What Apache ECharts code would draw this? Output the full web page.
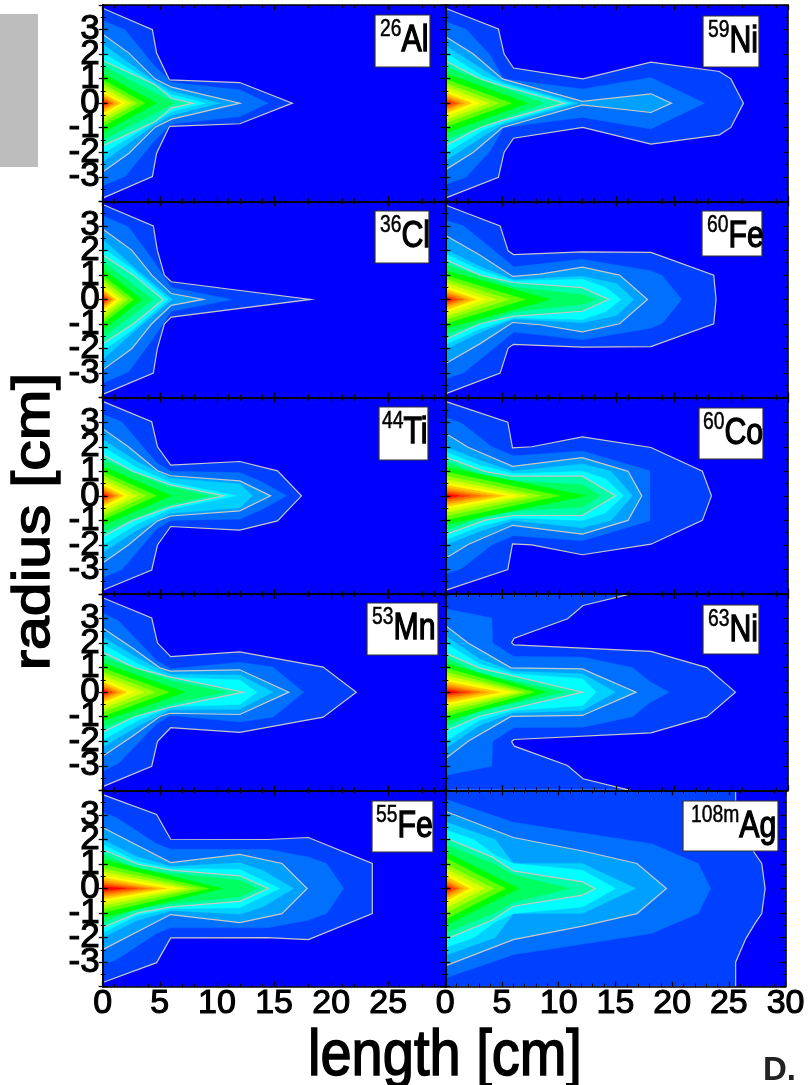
<!DOCTYPE html>
<html><head><meta charset="utf-8">
<style>html,body{margin:0;padding:0;background:#fff}#c{width:808px;height:1085px}</style>
<script src="https://cdn.jsdelivr.net/npm/echarts@6/dist/echarts.min.js"></script>
</head><body><div id="c"></div>
<script>
// Contour outlines: upper half [length cm, radius cm], mirrored about radius 0.
const outlinesAl26 = [
 [[0,3.87],[4.35,2.99],[4.72,2.04],[5.84,.95],[12,.84],[16.6,0]],
 [[0,3.37],[1.96,2.99],[4.4,1.6],[6,.85],[12,.55],[14.5,0]],
 [[0,2.81],[2.3,2.04],[4.6,.98],[6.04,.65],[12,0]],
 [[0,2.4],[4.5,.9],[6,.5],[10.2,0]],
 [[0,2.05],[4.5,.8],[6,.35],[9,0]],
 [[0,1.74],[4.6,.75],[6,.2],[7.9,0]],
 [[0,1.5],[6.3,0]]];
const coreAl26 = [[1.2,4.7],[.95,3.7],[.8,3],[.65,2.5],[.5,2],[.4,1.6],[.3,1.2],[.22,.9],[.13,.6],[.06,.3]];
const outlinesNi59 = [
 [[0,3.87],[4.65,3.02],[5.15,2],[5.97,1.43],[12.04,.99],[18,1.67],[24,1.29],[25,.99],[26.1,0]],
 [[0,3.33],[1.8,3.02],[3.9,1.97],[5.1,.99],[12,.58],[18,1.05],[22.7,0]],
 [[0,2.72],[2.46,2],[5,.99],[12,.07],[18,.38],[19.8,0]],
 [[0,2.35],[3.5,1.3],[5,.87],[11.6,0]],
 [[0,2.05],[3.3,1.1],[5,.8],[11,0]],
 [[0,1.73],[3.05,.99],[5,.7],[10.4,0]],
 [[0,1.48],[8.6,0]]];
const coreNi59 = [[1.22,7.2],[.98,5.8],[.82,4.7],[.68,3.8],[.53,3],[.42,2.3],[.32,1.7],[.24,1.3],[.15,.9],[.07,.4]];
const outlinesCl36 = [
 [[0,3.87],[4.43,3],[4.78,2.01],[5.4,.99],[6,.72],[18.2,0]],
 [[0,3.41],[2.25,2.96],[4.4,1.6],[6,.49],[11.3,0]],
 [[0,2.87],[2.54,2.01],[4.3,.99],[6,.24],[8.8,0]],
 [[0,2.45],[3,1.2],[6.1,0]],
 [[0,2.1],[2.7,1.2],[5.75,0]],
 [[0,1.81],[2.7,.99],[5.3,0]],
 [[0,1.55],[4.4,0]]];
const coreCl36 = [[1.25,3.4],[.98,2.7],[.82,2.2],[.66,1.8],[.52,1.45],[.42,1.15],[.33,.9],[.25,.7],[.16,.45],[.08,.2]];
const outlinesFe60 = [
 [[0,3.85],[4.8,3],[5.5,1.98],[5.97,1.83],[12,1.94],[18,1.92],[23.5,.99],[23.7,0]],
 [[0,3.23],[1.6,3],[6,1.33],[12,1.64],[18,1.17],[18.96,.99],[20.7,0]],
 [[0,2.62],[3.05,1.8],[5.9,.94],[8.3,1.03],[12,1.32],[15.25,.99],[17.7,0]],
 [[0,2.05],[3,1.35],[6,.8],[12,.95],[15,.65],[16.5,0]],
 [[0,1.85],[3,1.2],[6,.75],[12,.82],[14,.5],[15.4,0]],
 [[0,1.63],[3.05,.99],[5.9,.69],[12,.48],[14.3,0]],
 [[0,1.42],[6,.5],[12,.2],[13.2,0]]];
const coreFe60 = [[1.18,9.2],[.98,7],[.82,5.6],[.68,4.4],[.54,3.4],[.44,2.7],[.34,2.1],[.25,1.6],[.16,1.1],[.08,.6]];
const outlinesTi44 = [
 [[0,3.85],[4.29,3.02],[4.8,2],[5.95,1.25],[12,1.4],[15.3,1.02],[17.4,0]],
 [[0,3.33],[1.66,3.02],[4.7,1.36],[5.95,1],[12,.95],[14,.55],[16.1,0]],
 [[0,2.74],[2.25,2],[4.8,1.02],[5.95,.82],[12,.61],[14.7,0]],
 [[0,2.3],[3,1.4],[5.9,.72],[12,.48],[13.1,0]],
 [[0,2],[3,1.15],[5.9,.55],[11.7,0]],
 [[0,1.67],[2.68,.99],[5.95,.45],[10.6,0]],
 [[0,1.45],[5.5,.4],[9.3,0]]];
const coreTi44 = [[1.2,6],[.98,4.7],[.82,3.8],[.68,3],[.53,2.3],[.42,1.8],[.33,1.4],[.24,1.05],[.15,.7],[.08,.3]];
const outlinesCo60 = [
 [[0,3.85],[5.47,3],[5.88,1.96],[7.57,2],[12,2.4],[18,1.97],[22.5,1],[23.3,0]],
 [[0,3.2],[1.45,2.96],[4.07,2],[5.97,1.63],[12,1.83],[17.9,1.02],[17.9,0]],
 [[0,2.55],[2,1.98],[5.9,1.2],[12,1.56],[16,1],[17.2,0]],
 [[0,2],[3,1.45],[5.9,1],[12,1.3],[14.5,1],[16.4,0]],
 [[0,1.8],[3,1.25],[6,.9],[12,1],[14,.7],[15.6,0]],
 [[0,1.58],[3.5,.99],[5.9,.8],[12,.8],[14.9,0]],
 [[0,1.4],[3.5,.8],[6,.62],[12,.45],[13.6,0]]];
const coreCo60 = [[1.18,12.3],[.98,10],[.82,8.4],[.68,7.2],[.54,6.3],[.44,5.2],[.34,4.2],[.25,3.2],[.16,2.2],[.08,1.2]];
const outlinesMn53 = [
 [[0,3.85],[4.29,3.02],[4.8,2],[5.95,1.45],[12,1.64],[19.3,1.02],[22.2,0]],
 [[0,3.23],[1.4,2.9],[4.7,1.3],[5.95,.95],[12,1.22],[14.9,1.02],[17.6,0]],
 [[0,2.61],[2.7,1.77],[5,.99],[5.9,.86],[12,.91],[16.3,0]],
 [[0,2.25],[3,1.4],[5.9,.72],[12,.7],[14.9,0]],
 [[0,1.95],[3,1.17],[5.9,.6],[12,.5],[13.5,0]],
 [[0,1.63],[2.8,.99],[5.95,.61],[12.3,0]],
 [[0,1.42],[6,.45],[10.8,0]]];
const coreMn53 = [[1.18,7.2],[.98,5.8],[.82,4.6],[.68,3.6],[.53,2.7],[.42,2.1],[.33,1.6],[.24,1.2],[.15,.8],[.08,.4]];
const outlinesNi63 = [
 [[0,4],[16.2,4],[12.06,3.53],[10.7,2.99],[6.04,2.2],[5.8,2.02],[6,1.93],[18,1.66],[22.9,1],[25.4,0]],
 [[0,3.4],[4.07,3.02],[4.16,2],[6,1.45],[12,1.43],[16.4,1],[17.9,.43],[19.6,0]],
 [[0,2.72],[2,2],[5.75,.99],[12,.95],[16.7,0]],
 [[0,2.3],[3,1.35],[5.9,.85],[12,.75],[14.9,0]],
 [[0,2],[3,1.15],[5.9,.75],[12,.55],[13.2,0]],
 [[0,1.59],[3,.98],[12,0]],
 [[0,1.4],[3,.75],[10.5,0]]];
const coreNi63 = [[1.18,8.8],[.98,7.8],[.82,7],[.68,6.4],[.54,5.8],[.44,4.8],[.34,3.8],[.25,3],[.16,2.2],[.08,1.2]];
const outlinesFe55 = [
 [[0,3.83],[4.72,3.02],[5.95,2.01],[14.4,2],[18,2.08],[23.6,1.02],[23.6,0]],
 [[0,3.1],[1.2,2.9],[4.7,1.83],[5.95,1.6],[14.4,1.6],[18,1.29],[19.6,1.02],[21.1,0]],
 [[0,2.49],[5.95,1.06],[12,1.39],[15.7,1.02],[17.9,0]],
 [[0,2],[3,1.3],[6,.9],[12,1.05],[14,.75],[16.7,0]],
 [[0,1.8],[3,1.1],[6,.82],[12,.78],[15.5,0]],
 [[0,1.59],[3.1,.99],[6,.75],[12,.52],[14.5,0]],
 [[0,1.4],[3,.8],[6,.62],[12,.33],[13.5,0]]];
const coreFe55 = [[1.18,10.5],[.98,9.3],[.82,8.3],[.68,7.4],[.54,6.6],[.44,5.6],[.34,4.7],[.25,3.9],[.16,3],[.08,2]];
const outlinesAg108 = [
 [[0,4],[25.6,4],[25.6,3],[26.5,2.04],[27.3,1.43],[27.9,1.02],[28.2,0]],
 [[0,3.65],[6,2.7],[18.2,1.83],[22.3,1.02],[23.4,0]],
 [[0,3.15],[6,2.08],[12.1,1.53],[16.9,1.02],[19.5,0]],
 [[0,2.72],[4.4,2],[6,1.02],[12.1,1.02],[16.8,0]],
 [[0,2.4],[2.5,2],[4.4,1.36],[6,1.02],[12.1,.75],[15,0]],
 [[0,2.07],[4.2,1.27],[6,.72],[12.1,.27],[13.2,0]],
 [[0,1.8],[4.4,.98],[6,.55],[11,0]]];
const coreAg108 = [[1.5,6.5],[1.25,5.3],[1,4.3],[.82,3.5],[.65,2.6],[.52,2.1],[.4,1.6],[.3,1.25],[.2,.9],[.1,.5]];

const massNumbers = ['26','59','36','60','44','60','53','63','55','108m'];
const elements = ['Al','Ni','Cl','Fe','Ti','Co','Mn','Ni','Fe','Ag'];
const allOutlines = [outlinesAl26,outlinesNi59,outlinesCl36,outlinesFe60,outlinesTi44,outlinesCo60,outlinesMn53,outlinesNi63,outlinesFe55,outlinesAg108];
const allCores = [coreAl26,coreNi59,coreCl36,coreFe60,coreTi44,coreCo60,coreMn53,coreNi63,coreFe55,coreAg108];
const xTickLabels = [0,5,10,15,20,25,30];
const yTickLabels = [-3,-2,-1,0,1,2,3];
const axisTitleX = 'length [cm]';
const axisTitleY = 'radius [cm]';
const cornerMark = 'D.';

// Styling and layout
const bandColors = ['#0040ff','#0070ff','#00a0ff','#00d0ff','#00ffff','#00ffa8','#00ff60','#00ff00','#60ff00','#a0ff00','#d8ff00','#ffff00','#ffc800','#ffa000','#ff7000','#ff4000','#ff0000'];
const linedBands = [0,2,5];
const FONT = '"Liberation Sans", Arial, sans-serif';
const colX = [102.7, 445.3], colW = 342.7, rowY = [5,201.3,397.7,594,790.4], rowH = 196.3;
const labelBoxes = [[375,15,55,52,5],[703,16,56,51,5],[375,211,54,52,5],[702,211,60,45,5],[379,407,49,53,3],[699,408,64,51,4],[367,603,71,52,5],[703,605,56,49,5],[372,801,61,51,4],[683,801,95,50,8]];

const grids=[],xAxes=[],yAxes=[],series=[],graphics=[];
const lineSty={lineStyle:{color:'#000',width:1.6}};
function addGrid(g){grids.push(g);return grids.length-1;}
function makeX(gi,pos,showLabels,col){return {type:'value',gridIndex:gi,position:pos,min:0,max:30,interval:5,z:10,
  axisLine:{show:true,onZero:false,...lineSty},splitLine:{show:false},
  axisTick:{show:true,inside:true,length:5,lineStyle:{color:'#000',width:1.3}},
  minorTick:{show:true,splitNumber:5,length:3,lineStyle:{color:'#000',width:1}},
  axisLabel:{show:showLabels,margin:0,fontFamily:FONT,fontSize:34,color:'#000',textBorderColor:'#000',textBorderWidth:1.1,hideOverlap:false,showMinLabel:true,showMaxLabel:true,
    formatter:v=>(xTickLabels.includes(v)&&!(col===0&&v===30))?String(v):''}};}
function makeY(gi,pos,opts){return Object.assign({type:'value',gridIndex:gi,position:pos,min:-4,max:4,interval:1,z:10,
  axisLine:{show:true,onZero:false,...lineSty},splitLine:{show:false},
  axisTick:{show:true,inside:true,length:5,lineStyle:{color:'#000',width:1.3}},
  minorTick:{show:true,splitNumber:2,length:3,lineStyle:{color:'#000',width:1}},
  axisLabel:{show:false}},opts||{});}

allOutlines.forEach((outlines,i)=>{
  const col=i%2,row=(i-col)/2;
  const rect={left:colX[col],top:rowY[row],width:colW,height:rowH};
  const gi=addGrid({...rect,show:true,backgroundColor:'#0000ff',borderWidth:0});
  xAxes.push(makeX(gi,'bottom',row===4,col)); const xi=xAxes.length-1;
  xAxes.push(makeX(gi,'top',false,col));
  yAxes.push(makeY(gi,'left')); const yi=yAxes.length-1;
  yAxes.push(makeY(gi,'right'));
  const bands=outlines.concat(allCores[i].map(p=>[[0,p[0]],[p[1],0]]));
  series.push({type:'custom',xAxisIndex:xi,yAxisIndex:yi,silent:true,animation:false,clip:true,z:2,
    data:bands.map((b,k)=>[k]),
    renderItem:(params,api)=>{
      const k=api.value(0),up=bands[k];
      const path=up.concat(up.slice().reverse().map(p=>[p[0],-p[1]]));
      const pts=path.map(p=>api.coord(p));
      const children=[{type:'polygon',shape:{points:pts},style:{fill:bandColors[k],stroke:bandColors[k],lineWidth:.4}}];
      if(linedBands.includes(k)) children.push({type:'polyline',shape:{points:pts},style:{fill:null,stroke:'#c8c8c8',lineWidth:1.2}});
      return {type:'group',children};
    }});
  if(col===0){
    const gv=addGrid({...rect,show:false});
    xAxes.push({type:'value',gridIndex:gv,min:0,max:30,show:false});
    yAxes.push(makeY(gv,'left',{z:11,
      axisTick:{show:true,inside:false,length:4,lineStyle:{color:'#000',width:1.3}},
      minorTick:{show:true,splitNumber:2,length:2,lineStyle:{color:'#000',width:1}},
      axisLabel:{show:true,margin:3,padding:[0,0,12,0],fontFamily:FONT,fontSize:35,color:'#000',textBorderColor:'#000',textBorderWidth:1.1,hideOverlap:false,showMinLabel:false,showMaxLabel:false,
        formatter:v=>yTickLabels.includes(v)?String(v):''}}));
  }
  const b=labelBoxes[i];
  graphics.push({type:'rect',z:50,shape:{x:b[0],y:b[1],width:b[2],height:b[3]},style:{fill:'#fff',stroke:'#333',lineWidth:1.2}});
  graphics.push({type:'text',z:51,x:b[0]+b[4],y:b[1]+2,scaleX:.84,style:{
    text:'{s|'+massNumbers[i]+'}{m|'+elements[i]+'}',
    rich:{s:{fontFamily:FONT,fontSize:23,fill:'#000',verticalAlign:'top',lineHeight:26,height:26,stroke:'#000',lineWidth:.5},
          m:{fontFamily:FONT,fontSize:36,fill:'#000',verticalAlign:'bottom',lineHeight:49,height:49,stroke:'#000',lineWidth:1.3}}}});
});

graphics.push({type:'rect',z:1,shape:{x:0,y:14,width:38,height:153},style:{fill:'#bdbdbd'}});
graphics.push({type:'text',z:60,x:35,y:521.5,rotation:Math.PI/2,scaleX:1.17,style:{text:axisTitleY,fontFamily:FONT,fontSize:52,fill:'#000',stroke:'#000',lineWidth:1.5,align:'center',verticalAlign:'middle'}});
graphics.push({type:'text',z:60,x:308,y:1057,scaleX:.875,style:{text:axisTitleX,fontFamily:FONT,fontSize:64,fill:'#000',stroke:'#000',lineWidth:1.6,align:'left',verticalAlign:'middle'}});
graphics.push({type:'text',z:60,x:763,y:1071,style:{text:cornerMark,fontFamily:FONT,fontSize:33,fontWeight:'bold',fill:'#222',align:'left',verticalAlign:'middle'}});

const chart=echarts.init(document.getElementById('c'),null,{renderer:'canvas',width:808,height:1085});
chart.setOption({animation:false,backgroundColor:'#fff',grid:grids,xAxis:xAxes,yAxis:yAxes,series:series,graphic:{elements:graphics}});
</script></body></html>
